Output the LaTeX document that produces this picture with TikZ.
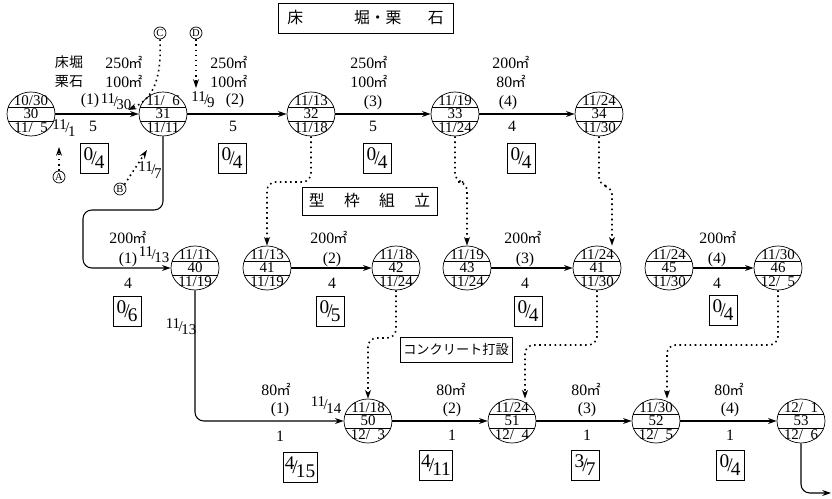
\documentclass[tikz,border=0pt]{standalone}
\usepackage{fontspec}
\setmainfont{Liberation Serif}
\newfontfamily\cjk{Noto Sans CJK JP}
\usetikzlibrary{shapes.geometric,arrows.meta}

% slanted dates and ratios (11/30, 0/4)
\newcommand\sfr[2]{\raisebox{.45ex}{#1}\kern-.1em/\kern-.1em\raisebox{-.45ex}{#2}}
\newcommand\sqm{{\cjk\fontsize{8}{8}\selectfont\kern-.05em ㎡}}

\begin{document}
\begin{tikzpicture}[x=0.02cm,y=-0.02cm,>={Stealth[length=5pt,width=3.4pt]}]

        % Styles
        \tikzset{
          evt/.style={ellipse,draw,minimum width=0.96cm,minimum height=0.88cm,
                      inner sep=0pt},
          evtxt/.style={font=\fontsize{8.5}{8.5}\selectfont,inner sep=0pt},
          lbl/.style={font=\fontsize{9}{10.8}\selectfont,inner sep=0pt,align=center},
          jp/.style={font=\cjk\fontsize{8}{10.8}\selectfont,inner sep=0pt,align=center},
          dte/.style={font=\fontsize{8.5}{8.5}\selectfont,inner sep=0pt},
          ratio/.style={draw,inner sep=1pt,minimum width=0.56cm,minimum height=0.6cm,
                        font=\fontsize{11}{11}\selectfont},
          ltr/.style={circle,draw,inner sep=0pt,minimum size=0.24cm,
                      font=\fontsize{6}{6}\selectfont},
          headbox/.style={draw,inner sep=0pt,font=\cjk\fontsize{9}{9}\selectfont},
          dotline/.style={dotted,line width=0.9pt},
          solid line/.style={semithick}
        }

        \useasboundingbox (0,0) rectangle (832,499);

        % y-coordinates for rows
        \def\yA{114}   % 床堀・栗石
        \def\yB{268}   % 型枠組立
        \def\yC{421}   % コンクリート打設

        %-------------------------------
        % Events: name/x/y/early/number/late
        %-------------------------------
        \foreach \n/\x/\y/\t/\m/\b in {
            n30/31/\yA/{10/30}/30/{11/\hphantom{0}5},
            n31/163/\yA/{11/\hphantom{0}6}/31/{11/11},
            n32/311/\yA/{11/13}/32/{11/18},
            n33/455/\yA/{11/19}/33/{11/24},
            n34/599/\yA/{11/24}/34/{11/30},
            n40/195/\yB/{11/11}/40/{11/19},
            n41a/267/\yB/{11/13}/41/{11/19},
            n42/396/\yB/{11/18}/42/{11/24},
            n43/467/\yB/{11/19}/43/{11/24},
            n41b/597/\yB/{11/24}/41/{11/30},
            n45/669/\yB/{11/24}/45/{11/30},
            n46/778/\yB/{11/30}/46/{12/\hphantom{0}5},
            n50/368/\yC/{11/18}/50/{12/\hphantom{0}3},
            n51/512/\yC/{11/24}/51/{12/\hphantom{0}4},
            n52/656/\yC/{11/30}/52/{12/\hphantom{0}5},
            n53/801/\yC/{12/\hphantom{0}1}/53/{12/\hphantom{0}6}}
        {
            \node[evt] (\n) at (\x,\y) {};
            \draw (\n.center) ++(-22.6,-7) -- ++(45.2,0);
            \draw (\n.center) ++(-22.6,7) -- ++(45.2,0);
            \path (\n.center) ++(0,-13) node[evtxt] {\t};
            \path (\n.center) node[evtxt] {\m};
            \path (\n.center) ++(0,14) node[evtxt] {\b};
        }

        %-------------------------------
        % Headings
        %-------------------------------
        \node[headbox,minimum width=3.5cm,minimum height=0.6cm] (h1) at (365.5,18)
            {床\hspace{29pt}堀・栗\hspace{15pt}石};
        \node[headbox,minimum width=2.7cm,minimum height=0.56cm] (h2) at (369.5,201)
            {型\hspace{11pt}枠\hspace{11pt}組\hspace{11pt}立};
        \node[headbox,minimum width=2.24cm,minimum height=0.5cm,
              font=\cjk\fontsize{7.5}{7.5}\selectfont] (h3) at (456,349.5)
            {コンクリート打設};

        %-------------------------------
        % Activities
        %-------------------------------
        \draw[->,solid line] (n30) -- (n31);
        \draw[->,solid line] (n31) -- (n32);
        \draw[->,solid line] (n32) -- (n33);
        \draw[->,solid line] (n33) -- (n34);

        \draw[->,solid line] (n41a) -- (n42);
        \draw[->,solid line] (n43) -- (n41b);
        \draw[->,solid line] (n45) -- (n46);

        \draw[->,solid line] (n50) -- (n51);
        \draw[->,solid line] (n51) -- (n52);
        \draw[->,solid line] (n52) -- (n53);

        \coordinate (k1) at (83,210);
        \coordinate (k3) at (831,493);
        \draw[->,solid line,rounded corners=5pt] (n31.south) |- (k1) |- (n40);
        \draw[->,solid line,rounded corners=5pt] (n40.south) |- (n50);
        \draw[->,solid line,rounded corners=5pt] (n53.south) |- (k3);

        %-------------------------------
        % Dummies (dotted)
        %-------------------------------
        \coordinate (j1) at (267,182);
        \coordinate (j2) at (467,182);
        \coordinate (j3) at (612,186);
        \coordinate (j4) at (368,338);
        \coordinate (j5) at (525,345);
        \coordinate (j6) at (667,345);
        \draw[->,dotline,rounded corners=5pt] (n32.south) |- (j1) -- (n41a.north);
        \draw[->,dotline,rounded corners=5pt] (n33.south) |- (j2) -- (n43.north);
        \draw[->,dotline,rounded corners=5pt] (n34.south) |- (j3) -- (j3 |- n41b.north);
        \draw[->,dotline,rounded corners=5pt] (n42.south) |- (j4) -- (n50.north);
        \draw[->,dotline,rounded corners=5pt] (n41b.south) |- (j5) -- (j5 |- n51.north);
        \draw[->,dotline,rounded corners=5pt] (n46.south) |- (j6) -- (j6 |- n52.north);

        %-------------------------------
        % Outside links A-D
        %-------------------------------
        \node[ltr] (cA) at (59,177) {A};
        \node[ltr] (cB) at (120,189) {B};
        \node[ltr] (cC) at (160,33) {C};
        \node[ltr] (cD) at (196,33) {D};
        \coordinate (k4) at (128,110);
        \coordinate (k5) at (196,88);
        \coordinate (k6) at (59,147);
        \coordinate (k7) at (147,150);
        \draw[->,dotline] (cA.north) -- (k6);
        \draw[->,dotline] (cB.north east) -- (k7);
        \draw[->,dotline] (cC.south) .. controls (162,85) and (150,100) .. (k4);
        \draw[->,dotline] (cD.south) -- (k5);

        %-------------------------------
        % Labels, row 1
        %-------------------------------
        \node[jp]  (w10) at (69,72)  {床堀\\栗石};
        \node[lbl] (w11) at (124,72) {250\sqm\\100\sqm};
        \node[lbl] (p11) at (90,101)   {(1)};
        \node[lbl] (d11) at (93,126)   {5};
        \node[ratio] (r11) at (94,158) {\sfr{0}{4}};

        \node[lbl] (w12) at (229,72) {250\sqm\\100\sqm};
        \node[lbl] (p12) at (235,101)  {(2)};
        \node[lbl] (d12) at (233,126)  {5};
        \node[ratio] (r12) at (232,158) {\sfr{0}{4}};

        \node[lbl] (w13) at (369,72) {250\sqm\\100\sqm};
        \node[lbl] (p13) at (373,103)  {(3)};
        \node[lbl] (d13) at (373,126)  {5};
        \node[ratio] (r13) at (377,158) {\sfr{0}{4}};

        \node[lbl] (w14) at (511,72) {200\sqm\\80\sqm};
        \node[lbl] (p14) at (508,103)  {(4)};
        \node[lbl] (d14) at (512,126)  {4};
        \node[ratio] (r14) at (521,158) {\sfr{0}{4}};

        \node[dte] (s1130) at (116,102) {\sfr{11}{30}};
        \node[dte] (s111)  at (64,128)  {\sfr{11}{1}};
        \node[dte] (s119)  at (203,100) {\sfr{11}{9}};
        \node[dte] (s117)  at (150,170) {\sfr{11}{7}};

        %-------------------------------
        % Labels, row 2
        %-------------------------------
        \node[lbl] (w21) at (128,237)  {200\sqm};
        \node[lbl] (p21) at (128,260)  {(1)};
        \node[lbl] (d21) at (128,283)  {4};
        \node[ratio] (r21) at (127,311) {\sfr{0}{6}};
        \node[dte] (s1113a) at (154,255) {\sfr{11}{13}};
        \node[dte] (s1113b) at (181,327) {\sfr{11}{13}};

        \node[lbl] (w22) at (329,237)  {200\sqm};
        \node[lbl] (p22) at (332,260)  {(2)};
        \node[lbl] (d22) at (332,283)  {4};
        \node[ratio] (r22) at (330,311) {\sfr{0}{5}};

        \node[lbl] (w23) at (523,237)  {200\sqm};
        \node[lbl] (p23) at (525,260)  {(3)};
        \node[lbl] (d23) at (525,283)  {4};
        \node[ratio] (r23) at (528,311) {\sfr{0}{4}};

        \node[lbl] (w24) at (718,237)  {200\sqm};
        \node[lbl] (p24) at (717,260)  {(4)};
        \node[lbl] (d24) at (717,283)  {4};
        \node[ratio] (r24) at (723,310) {\sfr{0}{4}};

        %-------------------------------
        % Labels, row 3
        %-------------------------------
        \node[lbl] (w31) at (276,389)  {80\sqm};
        \node[lbl] (p31) at (280,410)  {(1)};
        \node[lbl] (d31) at (280,436)  {1};
        \node[ratio] (r31) at (300,467) {\sfr{4}{15}};
        \node[dte] (s1114) at (326,405) {\sfr{11}{14}};

        \node[lbl] (w32) at (451,389)  {80\sqm};
        \node[lbl] (p32) at (452,410)  {(2)};
        \node[lbl] (d32) at (452,435)  {1};
        \node[ratio] (r32) at (436,465) {\sfr{4}{11}};

        \node[lbl] (w33) at (586,389)  {80\sqm};
        \node[lbl] (p33) at (587,410)  {(3)};
        \node[lbl] (d33) at (587,435)  {1};
        \node[ratio] (r33) at (585,465) {\sfr{3}{7}};

        \node[lbl] (w34) at (729,389)  {80\sqm};
        \node[lbl] (p34) at (730,410)  {(4)};
        \node[lbl] (d34) at (730,435)  {1};
        \node[ratio] (r34) at (730,465) {\sfr{0}{4}};

\end{tikzpicture}
\end{document}
